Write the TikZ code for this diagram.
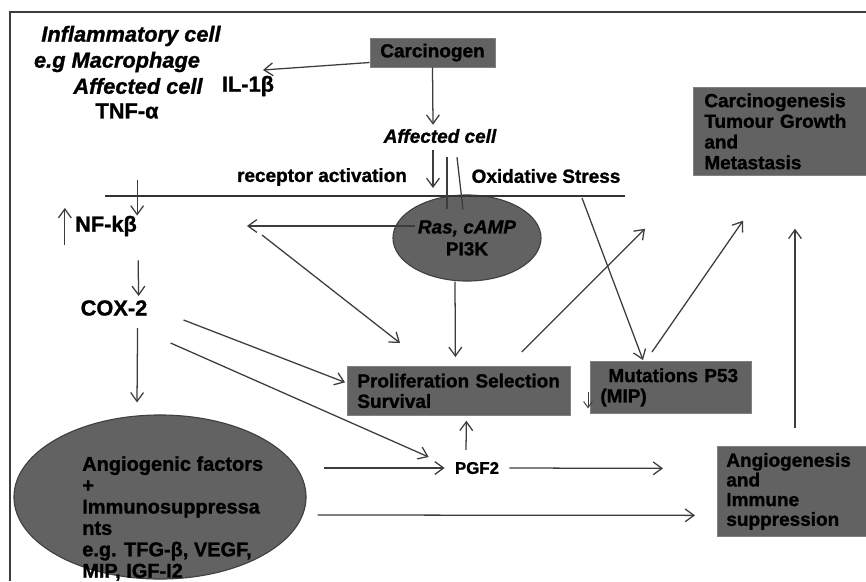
\documentclass[tikz,border=0pt]{standalone}
\usepackage{fontspec}
\setmainfont{Liberation Sans}[BoldFeatures={FakeBold=1.2},BoldItalicFeatures={FakeBold=1.2}]
\usetikzlibrary{arrows.meta,calc,shapes.geometric}

\definecolor{boxgrey}{RGB}{98,98,98}
\definecolor{linegrey}{RGB}{60,60,60}

\tikzset{
  txt/.style={font=\bfseries\fontsize{13.5}{14.5}\selectfont, inner sep=0pt},
  itxt/.style={font=\bfseries\itshape\fontsize{13.5}{14.5}\selectfont, inner sep=0pt},
  bigtxt/.style={font=\bfseries\fontsize{15.5}{17}\selectfont, inner sep=0pt},
  bigitxt/.style={font=\bfseries\itshape\fontsize{15.5}{17}\selectfont, inner sep=0pt},
  greybox/.style={txt, fill=boxgrey, draw=black!50, line width=0.5pt,
        align=left, anchor=north west, inner xsep=0.25cm},
  cellell/.style={txt, ellipse, fill=boxgrey, draw=black!75, line width=0.8pt},
  arr/.style={draw=linegrey, line width=0.9pt, -{Straight Barb[length=2.2mm,width=3.2mm]}},
  bareline/.style={draw=linegrey, line width=0.9pt},
}

\begin{document}
\begin{tikzpicture}[x=0.025cm,y=-0.025cm]

\clip (0,0) rectangle (866,581);
\fill [white] (0,0) rectangle (866,581);
\draw [linegrey, line width=1pt] (866,12) -- (10,12) -- (10,581);

% left hand labels
\node [bigitxt] (infl) at (131,36) {Inflammatory cell};
\node [bigitxt] (macro) at (117,62) {e.g Macrophage};
\node [bigitxt] (affleft) at (138,86) {Affected cell};
\node [bigtxt] (il) at (248,86) {IL-1β};
\node [bigtxt] (tnf) at (127,111) {TNF-α};

\node [greybox, anchor=center, align=center,
       minimum width=3.125cm, minimum height=0.725cm] (carc) at (432.5,52.5) {Carcinogen};
\node [itxt] (affmid) at (440,136) {Affected cell};
\node [txt] (recept) at (322,177) {receptor activation};
\node [txt] (oxid) at (546,176) {Oxidative Stress};

\coordinate (memL) at (105,196);
\coordinate (memR) at (625,196);

\node [cellell, align=center, minimum width=3.7cm, minimum height=2.15cm,
       font=\bfseries\fontsize{13.5}{15.6}\selectfont] (ras) at (467,238) {\textit{Ras, cAMP}\\PI3K};

\node [bigtxt] (nfkb) at (106,226) {NF-kβ};
\node [bigtxt] (cox) at (114,308) {COX-2};

\node [greybox, text width=5.075cm, minimum width=5.575cm,
       minimum height=1.225cm] (prolif) at (347,366) {Proliferation Selection\\Survival};
\node [greybox, text width=3.525cm, minimum width=4.025cm,
       minimum height=1.3cm] (mut) at (590,361) {\hspace*{0.2cm}Mutations P53\\(MIP)};

\node [greybox, inner xsep=0.275cm, text width=4cm, minimum height=2.2cm,
       font=\bfseries\fontsize{13.5}{14.7}\selectfont] (carcino) at (693,87)
      {Carcinogenesis\\Tumour Growth\\and\\Metastasis};
\node [greybox, inner xsep=0.225cm, text width=4cm, minimum height=2.25cm,
       font=\bfseries\fontsize{13.5}{14}\selectfont] (angiog) at (717,446)
      {Angiogenesis\\and\\Immune\\suppression};

\node [cellell, minimum width=7.3cm, minimum height=4.1cm] (angio) at (160,497) {};
\node [txt, align=left, anchor=north west,
       font=\bfseries\fontsize{14.2}{15.2}\selectfont] (angiotxt) at (82,456)
      {Angiogenic factors\\+\\Immunosuppressa\\nts\\e.g. TFG-β, VEGF,\\MIP, IGF-I2};

\node [font=\bfseries\fontsize{12}{14}\selectfont, inner sep=0pt] (pgf) at (477,468) {PGF2};

% free arrow ends
\coordinate (tIL) at (263,70);
\coordinate (tRec) at (433,188);
\coordinate (tRasL) at (247,226);
\coordinate (sRasD) at (262,235);

% membrane
\draw [bareline, line width=1.2pt, draw=black!80] (memL) -- (memR);

% arrows
\draw [arr] ($(carc.west)+(0,10)$) -- (tIL);
\draw [arr] (carc.south) -- ($(affmid.north)+(-7,-4)$);
\draw [arr] ($(affmid.south)+(-7,7)$) -- (tRec);
\draw [bareline] ($(affmid.south)+(7,14)$) -- ($(ras.north)+(-20,15)$);
\draw [bareline] ($(affmid.south)+(17,14)$) -- ($(ras.north)+(-4,15)$);

\draw [arr] ($(nfkb.north east)+(0,-36)$) -- (nfkb.north east);
\draw [arr] ($(nfkb.west)+(-10,19)$) -- ($(nfkb.west)+(-10,-18)$);
\draw [arr] ($(nfkb.south east)+(1,24)$) -- ($(cox.north east)+(-9,-4)$);
\draw [arr] ($(cox.south east)+(-10,12)$) -- ($(angio.north)+(-23,-12)$);

\draw [arr] ($(ras.center)+(-52,-12)$) -- (tRasL);
\draw [arr] (sRasD) -- ($(prolif.north west)+(53,-23)$);
\draw [arr] ($(ras.south)+(-12,0)$) -- ($(prolif.north)+(-3.5,-9)$);

\draw [arr] ($(cox.east)+(36,12)$) -- ($(prolif.west)+(-2,-8.5)$);
\draw [arr] ($(cox.east)+(23,35)$) -- ($(pgf.west)+(-26,-11)$);
\draw [arr] ($(angio.east)+(17,-29)$) -- ($(pgf.west)+(-10,0)$);
\draw [arr] ($(pgf.north)+(-11,-12)$) -- ($(prolif.south)+(7.5,5)$);
\draw [arr] ($(pgf.east)+(10,0)$) -- ($(angiog.west)+(-54,-23)$);
\draw [arr] ($(angio.east)+(11,18)$) -- ($(angiog.west)+(-22,24)$);

\draw [arr] ($(memR)+(-43,2)$) -- ($(mut.north west)+(53,-1)$);
\draw [arr] ($(prolif.north east)+(-49,-14)$) -- ($(carcino.south west)+(-48,53)$);
\draw [arr] ($(mut.north west)+(62,-9)$) -- ($(carcino.south west)+(50,45)$);
\draw [arr] ($(angiog.north west)+(78,-18)$) -- ($(carcino.south west)+(102,53)$);
\draw [arr, line width=0.7pt, -{Straight Barb[length=1.5mm,width=2.2mm]}]
      ($(mut.west)+(-2,5)$) -- ($(mut.west)+(-2,21)$);

\end{tikzpicture}
\end{document}
